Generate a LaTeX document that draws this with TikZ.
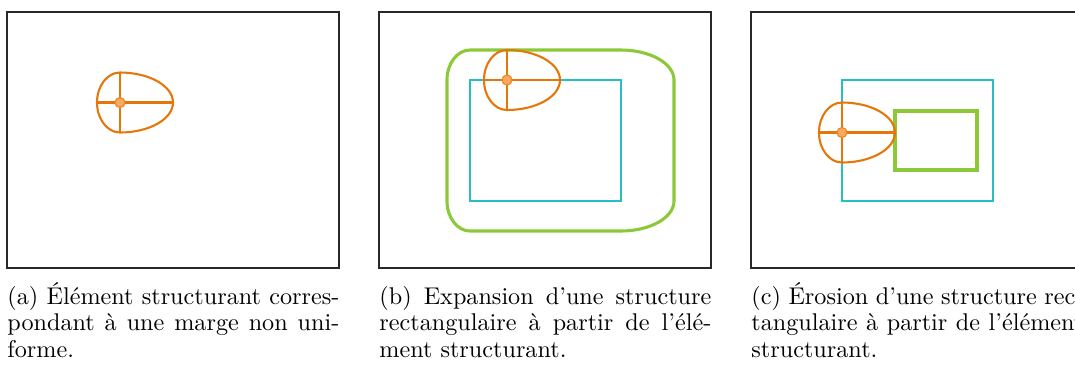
\documentclass[tikz,border=0pt]{standalone}
\usepackage{fontspec}
\begin{document}
\begin{tikzpicture}[x=0.4528pt,y=-0.4528pt,
  frame/.style={draw={rgb,255:red,40;green,40;blue,40},line width=0.5pt},
  eggline/.style={draw={rgb,255:red,230;green,118;blue,10},line width=0.95pt},
  dotstyle/.style={fill={rgb,255:red,250;green,170;blue,95},draw={rgb,255:red,236;green,132;blue,30},line width=0.5pt},
  cyanline/.style={draw={rgb,255:red,40;green,190;blue,195},line width=0.95pt},
  greenline/.style={draw={rgb,255:red,140;green,200;blue,55},line width=1.4pt},
  capline/.style={anchor=base west,inner sep=0pt,font=\fontsize{10.95pt}{13pt}\selectfont},
  egg/.pic={
    \draw[eggline] (0,-30) .. controls (-12.7,-30) and (-23,-16.57) .. (-23,0)
      .. controls (-23,16.57) and (-12.7,30) .. (0,30)
      .. controls (29.27,30) and (53,16.57) .. (53,0)
      .. controls (53,-16.57) and (29.27,-30) .. (0,-30) -- cycle;
    \draw[eggline] (-23,0) -- (53,0);
    \draw[eggline] (0,-30) -- (0,30);
    \draw[dotstyle] (0,0) circle[radius=5];
  }]
\useasboundingbox (0,0) rectangle (1075,365);
\clip (0,0) rectangle (1075,365);
% frames
\draw[frame] (7,12) rectangle (339,268);
\draw[frame] (379,12) rectangle (711,268);
\draw[frame] (751,12) rectangle (1083,268);
% panel a
\pic at (120,102.5) {egg};
% panel b
\draw[greenline] (470,50) -- (621,50) .. controls (650.27,50) and (674,63.43) .. (674,80)
  -- (674,201) .. controls (674,217.57) and (650.27,231) .. (621,231)
  -- (470,231) .. controls (457.3,231) and (447,217.57) .. (447,201)
  -- (447,80) .. controls (447,63.43) and (457.3,50) .. (470,50) -- cycle;
\draw[cyanline] (470,80) rectangle (621,201);
\pic at (507,80) {egg};
% panel c
\draw[cyanline] (842,80) rectangle (993,201);
\draw[greenline] (895,111) rectangle (977,170);
\pic at (842,132.5) {egg};
% captions
\def\cw{150.3pt}
\node[capline] (ca1) at (7,304) {\makebox[\cw][s]{(a) Élément structurant corres-}};
\node[capline] (ca2) at (7,330.5) {\makebox[\cw][s]{pondant à une marge non uni-}};
\node[capline] (ca3) at (7,357) {forme.};
\node[capline] (cb1) at (379,304) {\makebox[\cw][s]{(b) Expansion d’une structure}};
\node[capline] (cb2) at (379,330.5) {\makebox[\cw][s]{rectangulaire à partir de l’élé-}};
\node[capline] (cb3) at (379,357) {ment structurant.};
\node[capline] (cc1) at (751,304) {\makebox[\cw][s]{(c) Érosion d’une structure rec-}};
\node[capline] (cc2) at (751,330.5) {\makebox[\cw][s]{tangulaire à partir de l’élément}};
\node[capline] (cc3) at (751,357) {structurant.};
\end{tikzpicture}
\end{document}
